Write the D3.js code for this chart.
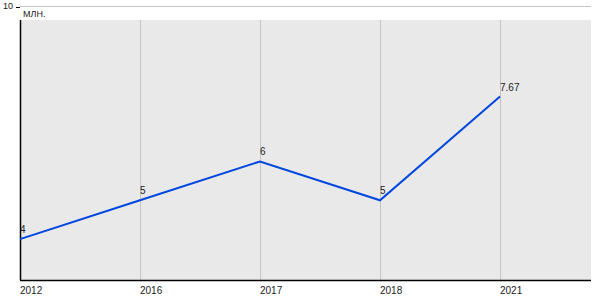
<!DOCTYPE html>
<html>
<head>
<meta charset="utf-8">
<script src="https://cdn.jsdelivr.net/npm/d3@7"></script>
<style>
  body { margin: 0; background: #fff; }
  text { font-family: "Liberation Sans", Arial, sans-serif; }
</style>
</head>
<body>
<svg id="chart"></svg>
<script>
// data
const years = ['2012', '2016', '2017', '2018', '2021'];
const values = [4, 5, 6, 5, 7.67];
const valueLabels = ['4', '5', '6', '5', '7.67'];
const yTicks = [10];
const unit = 'МЛН.';

const width = 600, height = 300;
const plotLeft = 20, plotRight = 591, plotTop = 20, plotBottom = 280;

const svg = d3.select('#chart')
  .attr('width', width)
  .attr('height', height);

const x = d3.scalePoint()
  .domain(years)
  .range([plotLeft, 500]);

const y = d3.scaleLinear()
  .domain([3, 10])
  .range([278, 6]);

// plot background
svg.append('rect')
  .attr('x', plotLeft)
  .attr('y', plotTop)
  .attr('width', plotRight - plotLeft)
  .attr('height', plotBottom - plotTop)
  .attr('fill', '#e9e9e9');

// vertical grid
svg.append('g')
  .selectAll('line')
  .data(years.slice(1))
  .enter().append('line')
  .attr('x1', d => x(d) + 0.5)
  .attr('x2', d => x(d) + 0.5)
  .attr('y1', plotTop)
  .attr('y2', plotBottom)
  .attr('stroke', '#c4c4c4')
  .attr('stroke-width', 1);

// y tick + gridline
const yg = svg.append('g');
yg.selectAll('line.grid')
  .data(yTicks)
  .enter().append('line')
  .attr('x1', plotLeft)
  .attr('x2', plotRight)
  .attr('y1', d => Math.round(y(d)) + 0.5)
  .attr('y2', d => Math.round(y(d)) + 0.5)
  .attr('stroke', '#c4c4c4');
yg.selectAll('line.tick')
  .data(yTicks)
  .enter().append('line')
  .attr('x1', plotLeft - 4)
  .attr('x2', plotLeft)
  .attr('y1', d => Math.round(y(d)) + 1.5)
  .attr('y2', d => Math.round(y(d)) + 1.5)
  .attr('stroke', '#000');
yg.selectAll('text')
  .data(yTicks)
  .enter().append('text')
  .attr('x', 3)
  .attr('y', d => y(d) + 3)
  .attr('font-size', 9)
  .attr('fill', '#222')
  .text(d => d);

svg.append('text')
  .attr('x', 23)
  .attr('y', 17)
  .attr('font-size', 9)
  .attr('fill', '#222')
  .text(unit);

// axes lines
svg.append('line')
  .attr('x1', plotLeft + 0.5).attr('x2', plotLeft + 0.5)
  .attr('y1', plotTop).attr('y2', plotBottom)
  .attr('stroke', '#000').attr('stroke-width', 1.5);
svg.append('line')
  .attr('x1', plotLeft).attr('x2', plotRight)
  .attr('y1', plotBottom + 0.5).attr('y2', plotBottom + 0.5)
  .attr('stroke', '#000').attr('stroke-width', 1.5);

// x labels
svg.append('g')
  .selectAll('text')
  .data(years)
  .enter().append('text')
  .attr('x', d => x(d))
  .attr('y', 294)
  .attr('font-size', 10)
  .attr('fill', '#222')
  .text(d => d);

// line
const line = d3.line()
  .x((d, i) => x(years[i]))
  .y(d => y(d));

svg.append('path')
  .datum(values)
  .attr('d', line)
  .attr('fill', 'none')
  .attr('stroke', '#0047e0')
  .attr('stroke-width', 2);

// value labels
svg.append('g')
  .selectAll('text')
  .data(values)
  .enter().append('text')
  .attr('x', (d, i) => x(years[i]))
  .attr('y', d => y(d) - 6)
  .attr('font-size', 10)
  .attr('fill', '#222')
  .text((d, i) => valueLabels[i]);
</script>
</body>
</html>
